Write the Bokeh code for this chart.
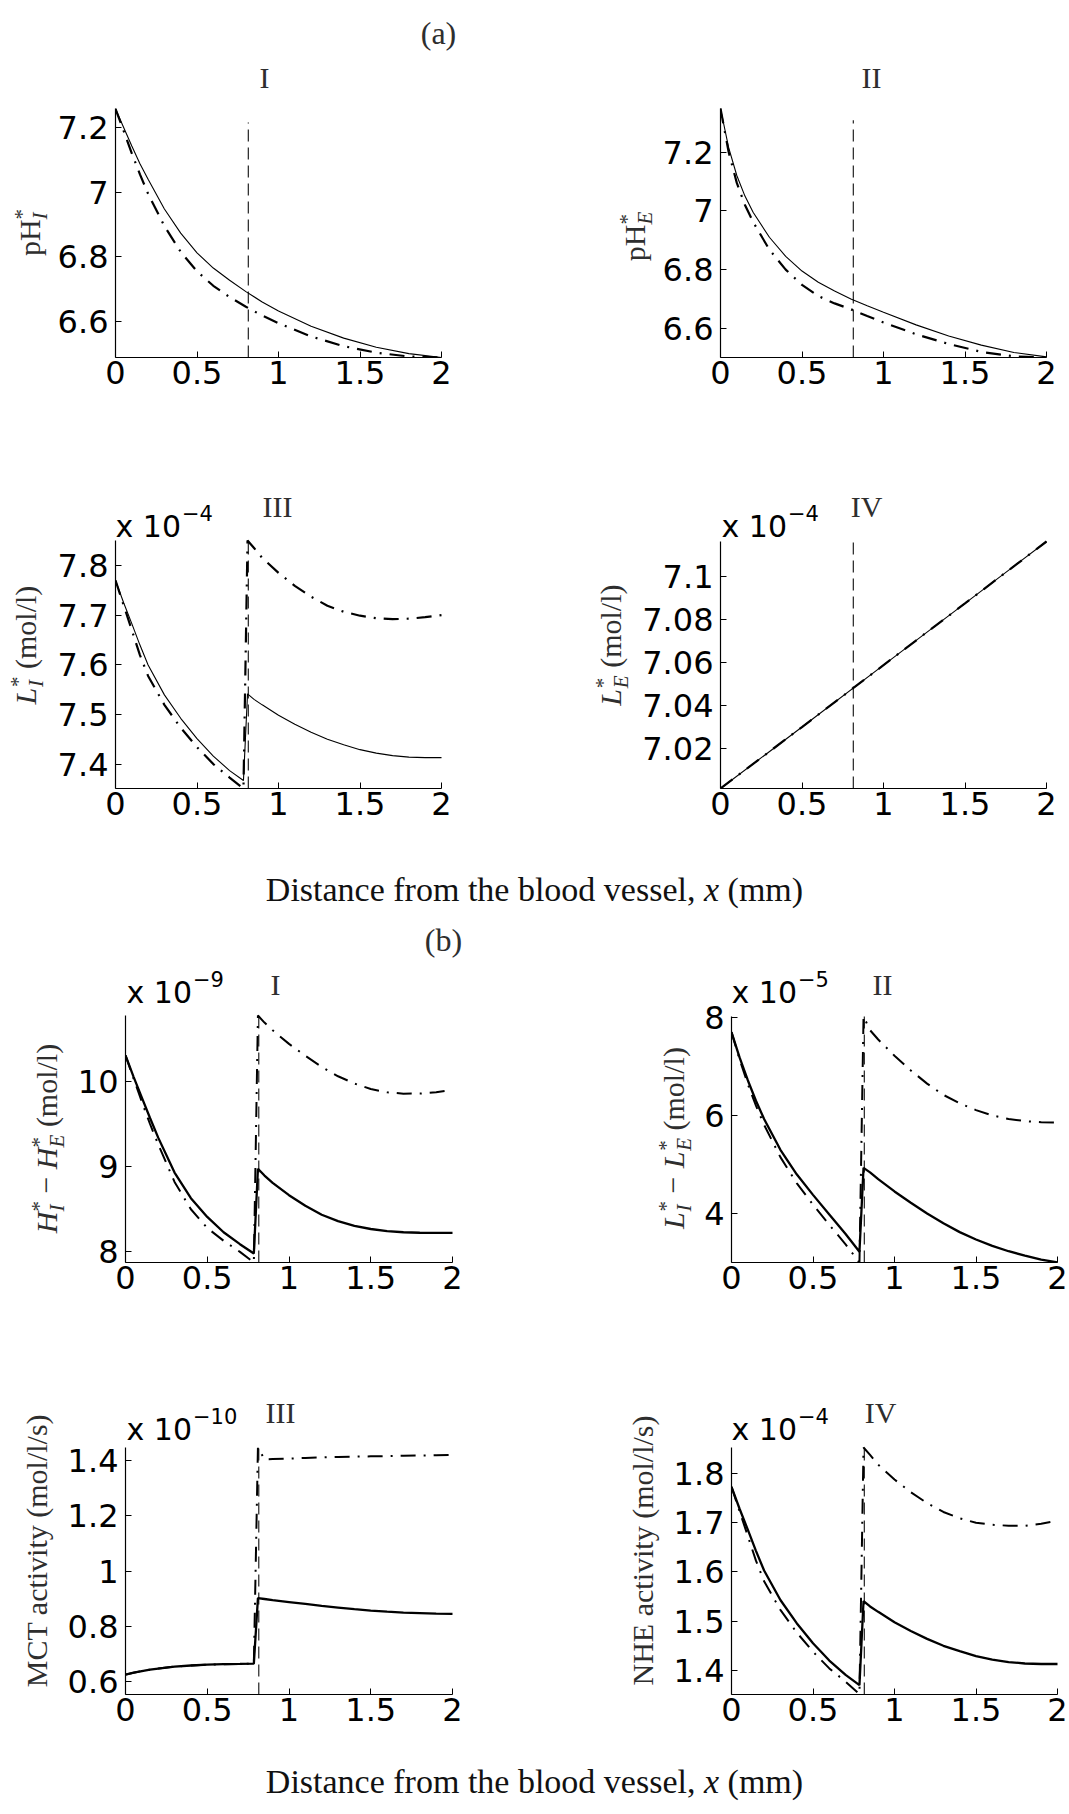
import math
from bokeh.plotting import figure
from bokeh.models import Range1d, FixedTicker, Label
from bokeh.layouts import column, row
from bokeh.embed import file_html
from bokeh.resources import INLINE

# ---------------- data ----------------
X_PRE = [0.0, 0.05, 0.1, 0.15, 0.2, 0.3, 0.4, 0.5, 0.6, 0.7, 0.785]
X_POST = [0.81, 0.85, 0.9, 1.0, 1.1, 1.2, 1.3, 1.4, 1.5, 1.6, 1.7, 1.8, 1.9, 2.0]
X_FULL = [0.0, 0.05, 0.1, 0.15, 0.2, 0.3, 0.4, 0.5, 0.6, 0.7, 0.8, 0.9, 1.0, 1.2, 1.4, 1.6, 1.8, 2.0]
X_LIN = [0.0, 0.5, 1.0, 1.5, 2.0]
BOUNDARY_X = 0.815
X_TICKS = [0, 0.5, 1, 1.5, 2]
X_TICK_TEXT = ["0", "0.5", "1", "1.5", "2"]

# (a) I : pH_I
PHI_SOLID = [7.258, 7.200, 7.143, 7.088, 7.040, 6.948, 6.873, 6.812, 6.765, 6.727, 6.692, 6.660, 6.632, 6.585, 6.548, 6.520, 6.500, 6.488]
PHI_DASHDOT = [7.258, 7.190, 7.120, 7.055, 6.995, 6.895, 6.815, 6.755, 6.710, 6.675, 6.645, 6.618, 6.594, 6.553, 6.523, 6.503, 6.491, 6.488]
# (a) II : pH_E
PHE_SOLID = [7.348, 7.215, 7.120, 7.050, 6.995, 6.910, 6.845, 6.795, 6.757, 6.727, 6.700, 6.677, 6.655, 6.612, 6.574, 6.543, 6.518, 6.503]
PHE_DASHDOT = [7.348, 7.200, 7.095, 7.020, 6.962, 6.868, 6.800, 6.748, 6.710, 6.685, 6.665, 6.642, 6.620, 6.580, 6.547, 6.520, 6.505, 6.501]
# (a) III : L_I  (x 1e-4)
LI_SOLID = [7.770, 7.725, 7.683, 7.640, 7.600, 7.540, 7.493, 7.452, 7.417, 7.388, 7.368,
            7.542, 7.531, 7.520, 7.499, 7.481, 7.465, 7.451, 7.440, 7.430, 7.423, 7.418, 7.415, 7.414, 7.414]
LI_DASHDOT = [7.770, 7.720, 7.670, 7.620, 7.578, 7.520, 7.474, 7.435, 7.401, 7.374, 7.352,
              7.850, 7.835, 7.815, 7.785, 7.759, 7.737, 7.719, 7.707, 7.699, 7.694, 7.692, 7.693, 7.696, 7.700]
# (a) IV : L_E  (x 1e-4)
LE_SOLID = [7.0014, 7.0300, 7.0588, 7.0875, 7.1163]
LE_DASHDOT = [7.0014, 7.0300, 7.0588, 7.0875, 7.1163]
# (b) I : H_I - H_E  (x 1e-9)
HIE_SOLID = [10.305, 10.05, 9.81, 9.57, 9.34, 8.93, 8.63, 8.41, 8.23, 8.09, 7.98,
             8.975, 8.895, 8.81, 8.665, 8.54, 8.435, 8.36, 8.305, 8.268, 8.243, 8.23, 8.224, 8.222, 8.222]
HIE_DASHDOT = [10.305, 10.03, 9.76, 9.50, 9.26, 8.82, 8.50, 8.28, 8.13, 8.00, 7.875,
               10.773, 10.69, 10.60, 10.44, 10.30, 10.17, 10.06, 9.975, 9.91, 9.872, 9.856, 9.857, 9.872, 9.90]
# (b) II : L_I - L_E  (x 1e-5)
LIE_SOLID = [7.70, 7.18, 6.72, 6.30, 5.93, 5.30, 4.80, 4.38, 3.98, 3.58, 3.22,
             4.93, 4.84, 4.70, 4.45, 4.22, 4.00, 3.80, 3.62, 3.47, 3.34, 3.23, 3.14, 3.06, 3.003]
LIE_DASHDOT = [7.70, 7.14, 6.64, 6.20, 5.81, 5.15, 4.62, 4.18, 3.77, 3.37, 3.00,
               8.02, 7.74, 7.55, 7.22, 6.92, 6.65, 6.42, 6.25, 6.11, 6.00, 5.93, 5.885, 5.862, 5.855]
# (b) III : MCT activity  (x 1e-10)
MCT_SOLID = [0.625, 0.632, 0.638, 0.643, 0.647, 0.654, 0.658, 0.661, 0.663, 0.664, 0.665,
             0.902, 0.899, 0.895, 0.888, 0.881, 0.874, 0.868, 0.862, 0.857, 0.853, 0.850, 0.848, 0.846, 0.845]
MCT_DASHDOT = [0.625, 0.632, 0.638, 0.643, 0.647, 0.654, 0.658, 0.661, 0.663, 0.664, 0.665,
               1.448, 1.405, 1.406, 1.408, 1.410, 1.412, 1.414, 1.415, 1.416, 1.417, 1.418, 1.419, 1.420, 1.421]
# (b) IV : NHE activity  (x 1e-4)
NHE_SOLID = [1.773, 1.728, 1.686, 1.643, 1.603, 1.543, 1.496, 1.455, 1.420, 1.391, 1.370,
             1.541, 1.530, 1.519, 1.498, 1.480, 1.464, 1.450, 1.439, 1.429, 1.422, 1.417, 1.414, 1.413, 1.413]
NHE_DASHDOT = [1.773, 1.723, 1.673, 1.623, 1.581, 1.523, 1.477, 1.438, 1.404, 1.377, 1.352,
               1.853, 1.838, 1.818, 1.788, 1.762, 1.740, 1.722, 1.709, 1.700, 1.696, 1.694, 1.694, 1.698, 1.704]

Y_RANGES = {"aI": (6.488, 7.259), "aII": (6.501, 7.348), "aIII": (7.352, 7.850), "aIV": (7.0014, 7.1163),
            "bI": (7.875, 10.773), "bII": (3.0, 8.02), "bIII": (0.553, 1.448), "bIV": (1.351, 1.853)}
Y_TICKS = {"aI": [6.6, 6.8, 7.0, 7.2], "aII": [6.6, 6.8, 7.0, 7.2],
           "aIII": [7.4, 7.5, 7.6, 7.7, 7.8], "aIV": [7.02, 7.04, 7.06, 7.08, 7.1],
           "bI": [8, 9, 10], "bII": [4, 6, 8], "bIII": [0.6, 0.8, 1.0, 1.2, 1.4],
           "bIV": [1.4, 1.5, 1.6, 1.7, 1.8]}
Y_TICK_TEXT = {"aI": ["6.6", "6.8", "7", "7.2"], "aII": ["6.6", "6.8", "7", "7.2"],
               "aIII": ["7.4", "7.5", "7.6", "7.7", "7.8"], "aIV": ["7.02", "7.04", "7.06", "7.08", "7.1"],
               "bI": ["8", "9", "10"], "bII": ["4", "6", "8"], "bIII": ["0.6", "0.8", "1", "1.2", "1.4"],
               "bIV": ["1.4", "1.5", "1.6", "1.7", "1.8"]}
EXPONENTS = {"aIII": "\u22124", "aIV": "\u22124", "bI": "\u22129", "bII": "\u22125", "bIII": "\u221210", "bIV": "\u22124"}
TITLES = {"aI": "I", "aII": "II", "aIII": "III", "aIV": "IV", "bI": "I", "bII": "II", "bIII": "III", "bIV": "IV"}
VLINE_TOP = {"aI": 7.216, "aII": 7.308}

SERIES = {
    "aI": (X_FULL, PHI_SOLID, PHI_DASHDOT), "aII": (X_FULL, PHE_SOLID, PHE_DASHDOT),
    "aIII": (X_PRE + X_POST, LI_SOLID, LI_DASHDOT), "aIV": (X_LIN, LE_SOLID, LE_DASHDOT),
    "bI": (X_PRE + X_POST, HIE_SOLID, HIE_DASHDOT), "bII": (X_PRE + X_POST, LIE_SOLID, LIE_DASHDOT),
    "bIII": (X_PRE + X_POST, MCT_SOLID, MCT_DASHDOT), "bIV": (X_PRE + X_POST, NHE_SOLID, NHE_DASHDOT),
}

# ---------------- styling ----------------
SANS = "DejaVu Sans"
SERIF = "Liberation Serif"
TICK_PX = 32
EXP_PX = 30
LAB_PX = 30
SUB_PX = 21
GREY = "#2e2e2e"

TIMES_W = {' ': .25, '(': .333, ')': .333, '/': .278, ',': .25, '.': .25, '*': .5, '\u2212': .564,
           'a': .444, 'b': .5, 'c': .444, 'd': .5, 'e': .444, 'f': .333, 'g': .5, 'h': .5, 'i': .278,
           'l': .278, 'm': .778, 'n': .5, 'o': .5, 'p': .5, 'r': .333, 's': .389, 't': .278, 'u': .5,
           'v': .5, 'x': .444, 'y': .5, 'C': .667, 'D': .722, 'E': .611, 'H': .722, 'I': .333,
           'L': .611, 'M': .889, 'N': .722, 'T': .611}
DEJAVU_W = {'x': .592, ' ': .318, '.': .318, '\u2212': .838}


def tw(text, font, size):
    if font == SANS:
        return sum(DEJAVU_W.get(c, .636) for c in text) * size
    return sum(TIMES_W.get(c, .5) for c in text) * size


def txt(p, anc, X, Y, text, font, size, style="normal", color="black", align="left",
        baseline="alphabetic", angle=0.0):
    FL, FB, x0, y0 = anc
    p.add_layout(Label(x=x0, y=y0, x_offset=X - FL, y_offset=FB - Y, text=text,
                       text_font=font, text_font_size=f"{size}px", text_font_style=style,
                       text_color=color, text_align=align, text_baseline=baseline, angle=angle))


def adv(piece):
    t, f, s, st, r, a = piece
    return tw(t, f, s) if a is None else a


def hcomp(p, anc, Xc, Y, pieces, color):
    cur = Xc - sum(adv(pc) for pc in pieces) / 2
    for pc in pieces:
        t, f, s, st, r, a = pc
        txt(p, anc, cur, Y - r, t, f, s, st, color)
        cur += adv(pc)


def vcomp(p, anc, Xc, Yc, pieces, color):
    # text runs bottom -> top; each piece is centred on its own slot
    cur = Yc + sum(adv(pc) for pc in pieces) / 2
    for pc in pieces:
        t, f, s, st, r, a = pc
        w = tw(t, f, s)
        txt(p, anc, Xc - r, cur - w / 2, t, f, s, st, color, align="center",
            baseline="middle", angle=math.pi / 2)
        cur -= adv(pc)


SP = TIMES_W[' '] * LAB_PX


def star_sub(letter, gap=0.0):
    w = max(tw("*", SERIF, SUB_PX), tw(letter, SERIF, SUB_PX))
    return [("*", SERIF, SUB_PX, "normal", 8, 0.0),
            (letter, SERIF, SUB_PX, "italic", -10, w + gap)]


def it(ch):
    return (ch, SERIF, LAB_PX, "italic", 0, None)


MOL = ("(mol/l)", SERIF, LAB_PX, "normal", 0, None)
MINUS = ("\u2212", SERIF, LAB_PX, "normal", 0, tw("\u2212", SERIF, LAB_PX) + SP)

YLABELS = {
    "aI": [("pH", SERIF, LAB_PX, "normal", 0, None)] + star_sub("I"),
    "aII": [("pH", SERIF, LAB_PX, "normal", 0, None)] + star_sub("E"),
    "aIII": [it("L")] + star_sub("I", SP) + [MOL],
    "aIV": [it("L")] + star_sub("E", SP) + [MOL],
    "bI": [it("H")] + star_sub("I", SP) + [MINUS, it("H")] + star_sub("E", SP) + [MOL],
    "bII": [it("L")] + star_sub("I", SP) + [MINUS, it("L")] + star_sub("E", SP) + [MOL],
    "bIII": [("MCT activity (mol/l/s)", SERIF, LAB_PX, "normal", 0, None)],
    "bIV": [("NHE activity (mol/l/s)", SERIF, LAB_PX, "normal", 0, None)],
}
DIST = [("Distance from the blood vessel,", SERIF, 34, "normal", 0,
         tw("Distance from the blood vessel,", SERIF, 34) + TIMES_W[' '] * 34),
        ("x", SERIF, 34, "italic", 0, tw("x", SERIF, 34) + TIMES_W[' '] * 34),
        ("(mm)", SERIF, 34, "normal", 0, None)]

# ---------------- geometry (page pixels) ----------------
BANDS = {"A1": (0, 440), "A2": (440, 400), "B1": (960, 360), "B2": (1320, 420)}
STRIPS = {"A1": (50, 115), "A2": (50, 95), "B1": (72, 155), "B2": (56, 130)}
FRAMES = {
    "aI": ("A1", 0, 115, 441, 108, 357), "aII": ("A1", 1, 720, 1046, 108, 357),
    "aIII": ("A2", 0, 115, 441, 540, 788), "aIV": ("A2", 1, 720, 1046, 541, 788),
    "bI": ("B1", 0, 125, 452, 1015, 1262), "bII": ("B1", 1, 731, 1057, 1016, 1262),
    "bIII": ("B2", 0, 125, 452, 1447, 1694), "bIV": ("B2", 1, 731, 1057, 1447, 1694),
}
BAND_FB = {"A1": 357, "A2": 788, "B1": 1262, "B2": 1694}
TITLE_POS = {"aI": (264, 77), "aII": (871, 77), "aIII": (277, 506), "aIV": (866, 506),
             "bI": (275, 984), "bII": (882, 984), "bIII": (280, 1412), "bIV": (880, 1412)}
EXP_POS = {"aIII": (115, 526), "aIV": (721, 526), "bI": (126, 992), "bII": (731, 992),
           "bIII": (126, 1429), "bIV": (731, 1429)}
YLAB_POS = {"aI": (29, 232), "aII": (634, 236), "aIII": (25, 645), "aIV": (610, 645),
            "bI": (46, 1138), "bII": (673, 1138), "bIII": (36, 1550), "bIV": (642, 1550)}


def blank(width, height, bottom=0):
    p = figure(width=width, height=height, x_range=Range1d(0, width), y_range=Range1d(0, height - bottom),
               output_backend="svg", toolbar_location=None, title=None,
               x_axis_location=None, y_axis_location=None,
               min_border_left=0, min_border_right=0, min_border_top=0, min_border_bottom=bottom)
    p.grid.visible = False
    p.outline_line_color = None
    p.background_fill_color = "white"
    p.border_fill_color = "white"
    return p


def make_panel(key):
    band, side, FL, FR, FT, FB = FRAMES[key]
    btop, H = BANDS[band]
    sl, sr = STRIPS[band]
    fig_left = sl if side == 0 else 540 + sr
    fig_w = (540 - sl) if side == 0 else (1069 - 540 - sr)
    y0, y1 = Y_RANGES[key]
    ppx = (FR - FL) / 2.0
    ppy = (FB - FT) / (y1 - y0)
    x_end = (fig_left + fig_w - FL) / ppx
    y_end = y0 + (FB - btop) / ppy
    p = figure(width=fig_w, height=H, x_range=Range1d(0, x_end), y_range=Range1d(y0, y_end),
               output_backend="svg", toolbar_location=None, title=None,
               min_border_left=FL - fig_left, min_border_right=0, min_border_top=0,
               min_border_bottom=btop + H - FB)
    p.grid.visible = False
    p.outline_line_color = None
    p.background_fill_color = "white"
    p.border_fill_color = "white"
    for ax in (p.xaxis[0], p.yaxis[0]):
        ax.axis_line_color = "black"
        ax.axis_line_width = 1.2
        ax.major_tick_in = 6
        ax.major_tick_out = 0
        ax.major_tick_line_color = "black"
        ax.minor_tick_line_color = None
        ax.major_label_text_font = SANS
        ax.major_label_text_font_size = f"{TICK_PX}px"
        ax.major_label_text_color = "black"
    p.xaxis.major_label_standoff = 3
    p.yaxis.major_label_standoff = 7
    p.xaxis.bounds = (0, 2)
    p.yaxis.bounds = (y0, y1)
    p.xaxis.ticker = FixedTicker(ticks=X_TICKS)
    p.xaxis.major_label_overrides = dict(zip(X_TICKS, X_TICK_TEXT))
    p.yaxis.ticker = FixedTicker(ticks=Y_TICKS[key])
    p.yaxis.major_label_overrides = dict(zip(Y_TICKS[key], Y_TICK_TEXT[key]))

    xs, ys_solid, ys_dd = SERIES[key]
    thick = key.startswith("b")
    vtop = VLINE_TOP.get(key, y1)
    p.line([BOUNDARY_X, BOUNDARY_X], [y0, vtop], line_color="#333333", line_width=1.3, line_dash="12 6")
    p.line(xs, ys_dd, line_color="black", line_width=2.0 if thick else 2.2, line_dash="15 8 2 8")
    p.line(xs, ys_solid, line_color="black", line_width=2.3 if thick else 1.1)

    anc = (FL, FB, 0, y0)
    tx, ty = TITLE_POS[key]
    txt(p, anc, tx, ty, TITLES[key], SERIF, 30, color=GREY, align="center", baseline="middle")
    if key in EXPONENTS:
        ex, ey = EXP_POS[key]
        base = "x 10"
        txt(p, anc, ex, ey, base, SANS, EXP_PX)
        txt(p, anc, ex + tw(base, SANS, EXP_PX) + 1, ey - 14, EXPONENTS[key], SANS, 21)
    if key == "aI":
        txt(p, anc, 438, 32, "(a)", SERIF, 32, color=GREY, align="center", baseline="middle")
    return p


def label_strip(band, side, keys):
    btop, H = BANDS[band]
    sl, sr = STRIPS[band]
    w = sl if side == 0 else sr
    left = 0 if side == 0 else 540
    fb = BAND_FB[band]
    # same bottom border as the neighbouring panels, so the frames line up
    p = blank(w, H, bottom=btop + H - fb)
    anc = (left, fb, 0, 0)
    for key in keys:
        lx, ly = YLAB_POS[key]
        vcomp(p, anc, lx, ly, YLABELS[key], GREY)
    return p


def band_row(band, kl, kr):
    return row(label_strip(band, 0, [kl]), make_panel(kl),
               label_strip(band, 1, [kr]), make_panel(kr), spacing=0)


s1 = blank(1069, 120)
anc1 = (0, 960, 0, 0)
hcomp(s1, anc1, 534, 889, DIST, "#111111")
txt(s1, anc1, 443, 939, "(b)", SERIF, 32, color=GREY, align="center", baseline="middle")

s2 = blank(1069, 74)
anc2 = (0, 1814, 0, 0)
hcomp(s2, anc2, 534, 1781, DIST, "#111111")

layout = column(
    band_row("A1", "aI", "aII"),
    band_row("A2", "aIII", "aIV"),
    s1,
    band_row("B1", "bI", "bII"),
    band_row("B2", "bIII", "bIV"),
    s2,
    spacing=0,
)

open("out.html", "w").write(file_html(layout, INLINE))
